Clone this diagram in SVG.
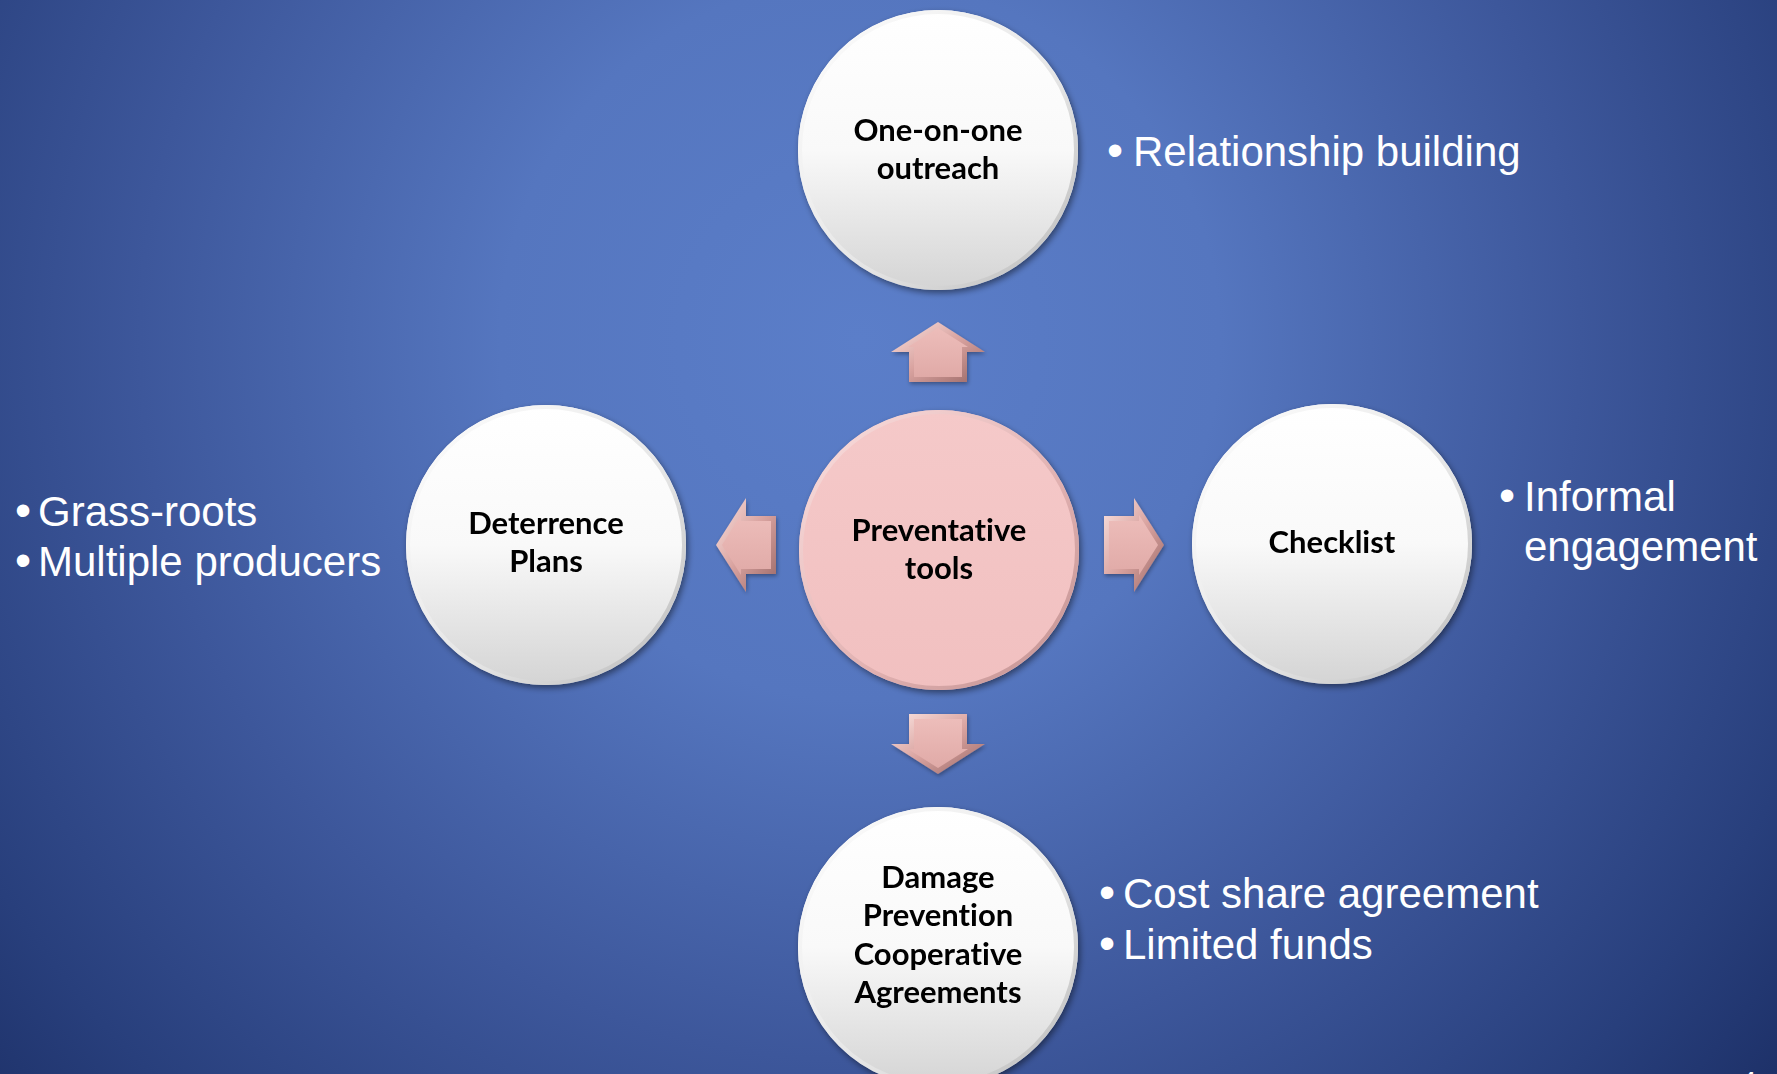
<svg xmlns="http://www.w3.org/2000/svg" width="1777" height="1074" viewBox="0 0 1777 1074">
  <defs>
    <radialGradient id="bg" gradientUnits="userSpaceOnUse" cx="860" cy="340" r="1200">
      <stop offset="0" stop-color="#5b7ec9"/>
      <stop offset="0.3" stop-color="#5576bf"/>
      <stop offset="0.6" stop-color="#3d579b"/>
      <stop offset="0.85" stop-color="#283f7c"/>
      <stop offset="1" stop-color="#1c2f66"/>
    </radialGradient>
    <linearGradient id="whiteFace" x1="0" y1="0" x2="0" y2="1">
      <stop offset="0" stop-color="#ffffff"/>
      <stop offset="0.5" stop-color="#f9f9f9"/>
      <stop offset="1" stop-color="#d4d4d4"/>
    </linearGradient>
    <linearGradient id="whiteRim" x1="0" y1="0" x2="1" y2="1">
      <stop offset="0" stop-color="#ffffff"/>
      <stop offset="0.6" stop-color="#e4e4e4"/>
      <stop offset="1" stop-color="#b8b8b8"/>
    </linearGradient>
    <linearGradient id="pinkFace" x1="0" y1="0" x2="0" y2="1">
      <stop offset="0" stop-color="#f5c9c9"/>
      <stop offset="1" stop-color="#f1c0c0"/>
    </linearGradient>
    <linearGradient id="pinkRim" x1="0" y1="0" x2="1" y2="1">
      <stop offset="0" stop-color="#fbe0e0"/>
      <stop offset="0.6" stop-color="#e0b0b0"/>
      <stop offset="1" stop-color="#c09090"/>
    </linearGradient>
    <linearGradient id="arrowBevel" x1="0" y1="0" x2="1" y2="1">
      <stop offset="0" stop-color="#fbe4e1"/>
      <stop offset="0.5" stop-color="#d9a3a0"/>
      <stop offset="1" stop-color="#9a6866"/>
    </linearGradient>
    <linearGradient id="arrowFace" x1="0" y1="0" x2="0" y2="1">
      <stop offset="0" stop-color="#edbdba"/>
      <stop offset="1" stop-color="#e0aaa7"/>
    </linearGradient>
    <filter id="shadow" x="-20%" y="-20%" width="140%" height="140%">
      <feDropShadow dx="2" dy="3" stdDeviation="3" flood-color="#000000" flood-opacity="0.45"/>
    </filter>
    <filter id="softShadow" x="-30%" y="-30%" width="160%" height="160%">
      <feDropShadow dx="1" dy="2" stdDeviation="2" flood-color="#000000" flood-opacity="0.35"/>
    </filter>
  </defs>
  <style>
    .disc { filter: url(#shadow); }
    .white .face { fill: url(#whiteFace); }
    .white .rim { fill: none; stroke: url(#whiteRim); stroke-width: 4; }
    .pink .face { fill: url(#pinkFace); }
    .pink .rim { fill: none; stroke: url(#pinkRim); stroke-width: 4; }
    .label { font-family: Lato, "Liberation Sans", sans-serif; font-weight: 700; font-size: 31px; fill: #000000; text-anchor: middle; font-variant-ligatures: none; }
    .note { font-family: "Liberation Sans", Arial, sans-serif; font-size: 42px; fill: #ffffff; }
    .dot { text-anchor: middle; font-size: 46px; }
    .arrow { filter: url(#softShadow); }
    .arrow .outer { fill: url(#arrowBevel); }
    .arrow .inner { fill: url(#arrowFace); }
  </style>

  <!-- backdrop -->
  <rect x="0" y="0" width="1777" height="1074" fill="url(#bg)"/>

  <!-- arrows radiating from the hub -->
  <g id="connectors">
    <g class="arrow" id="arrow-up">
      <polygon class="outer" points="909,382 909,352 891,352 938,322 985,352 967,352 967,382"/>
      <polygon class="inner" points="914,377 914,347 908,347 938,328 968,347 962,347 962,377"/>
    </g>
    <g class="arrow" id="arrow-left">
      <polygon class="outer" points="776,516 746,516 746,498 716,545 746,592 746,574 776,574"/>
      <polygon class="inner" points="771,521 741,521 741,515 722,545 741,575 741,569 771,569"/>
    </g>
    <g class="arrow" id="arrow-right">
      <polygon class="outer" points="1104,516 1134,516 1134,498 1164,545 1134,592 1134,574 1104,574"/>
      <polygon class="inner" points="1109,521 1139,521 1139,515 1158,545 1139,575 1139,569 1109,569"/>
    </g>
    <g class="arrow" id="arrow-down">
      <polygon class="outer" points="909,714 909,744 891,744 938,774 985,744 967,744 967,714"/>
      <polygon class="inner" points="914,719 914,749 908,749 938,768 968,749 962,749 962,719"/>
    </g>
  </g>

  <!-- hub -->
  <g id="node-hub" class="disc pink">
    <circle class="face" cx="939" cy="550" r="140"/>
    <circle class="rim" cx="939" cy="550" r="138"/>
    <text class="label" x="939" y="541">Preventative</text>
    <text class="label" x="939" y="579">tools</text>
  </g>

  <g id="node-outreach" class="disc white">
    <circle class="face" cx="938" cy="150" r="140"/>
    <circle class="rim" cx="938" cy="150" r="138"/>
    <text class="label" x="938" y="141">One-on-one</text>
    <text class="label" x="938" y="179">outreach</text>
  </g>

  <g id="node-deterrence" class="disc white">
    <circle class="face" cx="546" cy="545" r="140"/>
    <circle class="rim" cx="546" cy="545" r="138"/>
    <text class="label" x="546" y="534">Deterrence</text>
    <text class="label" x="546" y="572">Plans</text>
  </g>

  <g id="node-checklist" class="disc white">
    <circle class="face" cx="1332" cy="544" r="140"/>
    <circle class="rim" cx="1332" cy="544" r="138"/>
    <text class="label" x="1332" y="553">Checklist</text>
  </g>

  <g id="node-agreements" class="disc white">
    <circle class="face" cx="938" cy="947" r="140"/>
    <circle class="rim" cx="938" cy="947" r="138"/>
    <text class="label" x="938" y="888">Damage</text>
    <text class="label" x="938" y="926">Prevention</text>
    <text class="label" x="938" y="965">Cooperative</text>
    <text class="label" x="938" y="1003">Agreements</text>
  </g>

  <!-- bullet notes -->
  <g id="note-outreach" class="note">
    <text class="dot" x="1115" y="166">•</text>
    <text x="1133" y="166">Relationship building</text>
  </g>

  <g id="note-deterrence" class="note">
    <text class="dot" x="23" y="526">•</text>
    <text x="38" y="526">Grass-roots</text>
    <text class="dot" x="23" y="576">•</text>
    <text x="38" y="576">Multiple producers</text>
  </g>

  <g id="note-checklist" class="note">
    <text class="dot" x="1507" y="511">•</text>
    <text x="1524" y="511">Informal</text>
    <text x="1524" y="561">engagement</text>
  </g>

  <g id="note-agreements" class="note">
    <text class="dot" x="1107" y="908">•</text>
    <text x="1123" y="908">Cost share agreement</text>
    <text class="dot" x="1107" y="959">•</text>
    <text x="1123" y="959">Limited funds</text>
  </g>

  <!-- slide number, mostly below the bottom edge -->
  <text x="1740" y="1092" font-family="'Liberation Sans', Arial, sans-serif" font-size="30" fill="#ffffff">4</text>
</svg>
